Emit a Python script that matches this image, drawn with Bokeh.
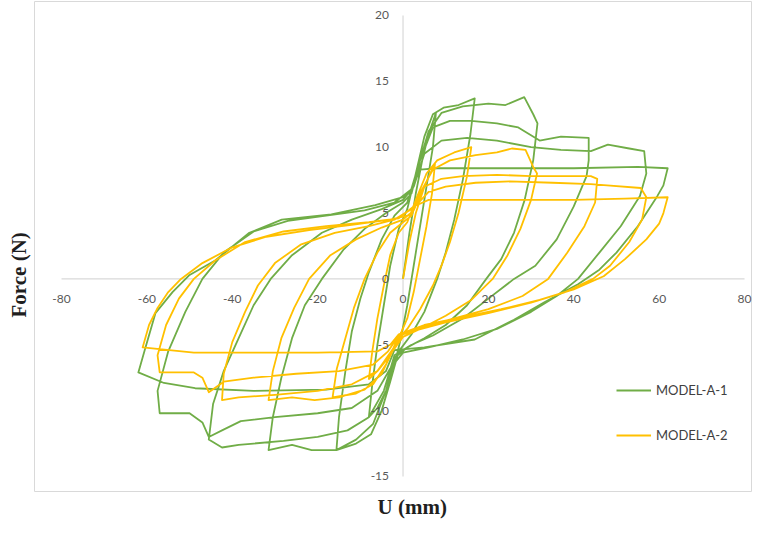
from bokeh.plotting import figure
from bokeh.models import Range1d, Legend, LegendItem, Title, ColumnDataSource
from bokeh.embed import file_html
from bokeh.resources import INLINE
from bokeh.core.properties import value

# ---- axis ticks ----
x_ticks = [-80, -60, -40, -20, 0, 20, 40, 60, 80]
y_ticks = [-15, -10, -5, 0, 5, 10, 15, 20]

series_names = ["MODEL-A-1", "MODEL-A-2"]
x_title = "U (mm)"
y_title = "Force (N)"

# ---- MODEL-A-1 hysteresis (U mm, Force), cycle by cycle ----
a1_pts = [
    # cycle 1
    (0.0, 0.0), (1.5, 3.5), (3.0, 6.5), (4.5, 9.0), (6.0, 11.0), (7.7, 12.6), (7.0, 10.0), (5.5, 7.0),
    (4.0, 4.0), (2.5, 1.0), (1.0, -2.0), (-0.5, -4.5), (-2.0, -6.5), (-4.0, -8.5), (-6.0, -9.8),
    (-8.0, -10.5), (-7.2, -8.0), (-6.0, -5.0), (-4.5, -2.0), (-3.0, 1.0), (-1.0, 3.8), (1.0, 5.3),
    # cycle 2
    (3.0, 8.0), (5.0, 10.8), (7.0, 12.5), (9.5, 13.0), (13.0, 13.2), (16.8, 13.7), (15.8, 11.0),
    (14.0, 7.5), (12.0, 4.5), (10.0, 2.0), (8.0, 0.0), (5.0, -2.5), (2.0, -4.2), (-1.0, -5.5),
    (-3.0, -7.8), (-5.0, -10.0), (-7.5, -11.8), (-11.0, -12.5), (-15.6, -13.0), (-15.0, -10.5),
    (-13.5, -7.0), (-12.0, -4.0), (-10.0, -1.5), (-8.0, 0.5), (-5.0, 3.0), (-2.0, 4.8), (1.0, 5.8),
    # cycle 3
    (3.5, 8.5), (6.0, 11.2), (9.0, 12.6), (14.0, 13.1), (20.0, 13.3), (24.0, 13.2), (28.4, 13.8),
    (30.5, 12.5), (31.5, 11.8), (30.5, 9.0), (28.5, 6.0), (26.0, 3.5), (23.0, 1.5), (19.5, 0.0),
    (15.0, -2.0), (10.0, -3.5), (5.0, -4.5), (1.0, -5.2), (-2.0, -6.0), (-4.0, -8.5), (-7.0, -11.0),
    (-11.0, -12.2), (-15.6, -13.0), (-21.4, -13.0), (-26.0, -12.6), (-31.5, -13.0), (-30.5, -10.5),
    (-28.5, -7.5), (-26.0, -4.5), (-23.0, -2.0), (-19.0, 0.0), (-14.0, 2.2), (-9.0, 3.8), (-4.0, 5.0),
    (0.0, 5.8), (2.0, 6.5),
    # cycle 4
    (4.0, 9.0), (7.0, 11.5), (11.0, 12.0), (16.0, 12.0), (22.0, 11.8), (27.0, 11.5), (32.0, 10.5),
    (37.0, 10.8), (43.5, 10.7), (43.5, 9.0), (43.0, 7.8), (40.0, 5.5), (36.0, 3.0), (31.0, 1.0),
    (26.0, 0.0), (20.0, -1.5), (14.0, -3.0), (7.0, -4.3), (2.0, -5.0), (-2.0, -5.8), (-4.5, -8.5),
    (-8.0, -10.5), (-13.0, -11.5), (-20.0, -12.0), (-28.0, -12.3), (-35.0, -12.5), (-38.5, -12.6),
    (-42.4, -12.8), (-45.5, -12.2), (-44.5, -9.5), (-42.0, -7.0), (-38.5, -4.5), (-35.0, -2.0),
    (-31.0, 0.0), (-26.0, 1.8), (-19.0, 3.5), (-12.0, 4.5), (-5.0, 5.3), (0.0, 6.0), (2.5, 7.0),
    # cycle 5
    (5.0, 9.5), (9.0, 10.5), (15.0, 10.7), (22.0, 10.5), (30.0, 10.0), (37.0, 9.8), (44.0, 9.7),
    (48.0, 10.2), (53.0, 9.9), (56.5, 9.7), (57.0, 8.0), (55.5, 6.3), (51.0, 4.0), (46.0, 2.0),
    (41.0, 0.0), (36.0, -1.3), (30.0, -2.5), (22.0, -3.8), (14.0, -4.6), (6.0, -5.2), (0.0, -5.6),
    (-3.0, -6.8), (-6.0, -8.5), (-12.0, -9.8), (-20.0, -10.2), (-30.0, -10.5), (-38.0, -10.8),
    (-42.4, -11.5), (-45.5, -12.0), (-47.0, -10.9), (-50.0, -10.2), (-57.0, -10.2), (-57.5, -8.5),
    (-55.0, -5.5), (-51.0, -2.5), (-47.0, 0.0), (-42.0, 2.0), (-35.0, 3.6), (-27.0, 4.4), (-18.0, 4.8),
    (-9.0, 5.2), (-2.0, 5.8), (2.0, 6.8),
    # cycle 6
    (4.0, 8.3), (8.0, 8.4), (20.0, 8.4), (40.0, 8.4), (55.0, 8.5), (62.0, 8.4), (61.0, 7.1),
    (59.6, 6.3), (55.0, 4.0), (50.0, 2.0), (46.0, 0.7), (41.0, -0.4), (33.0, -1.8), (26.0, -3.1),
    (16.8, -4.6), (5.0, -5.2), (-2.0, -5.4), (-4.0, -7.0), (-8.0, -8.0), (-18.0, -8.4), (-35.0, -8.5),
    (-48.7, -8.3), (-56.0, -7.9), (-62.0, -7.1), (-60.5, -5.4), (-58.0, -2.6), (-54.0, -1.0),
    (-50.0, 0.3), (-44.0, 1.4), (-36.0, 3.5), (-28.4, 4.5), (-16.8, 4.9), (-6.5, 5.6), (0.0, 6.2),
    (2.0, 6.8),
]

# ---- MODEL-A-2 hysteresis ----
a2_pts = [
    # cycle 1
    (0.0, 0.0), (1.5, 2.8), (3.0, 5.0), (5.0, 7.0), (7.5, 8.8), (6.8, 6.5), (5.5, 4.0), (4.0, 1.5),
    (2.5, -1.0), (1.0, -3.0), (-1.0, -4.5), (-3.5, -6.0), (-6.0, -7.0), (-8.0, -7.6), (-7.2, -5.5),
    (-6.0, -3.0), (-4.5, -0.5), (-3.0, 1.8), (-1.0, 3.5), (1.0, 4.3),
    # cycle 2
    (3.0, 6.0), (5.5, 8.0), (8.0, 9.0), (12.0, 9.6), (16.0, 10.0), (15.0, 7.8), (13.0, 5.0),
    (11.0, 2.8), (9.0, 1.0), (7.0, -0.5), (4.0, -2.3), (1.0, -3.8), (-1.5, -4.7), (-4.0, -6.5),
    (-7.0, -8.0), (-11.0, -8.7), (-16.5, -9.0), (-15.5, -6.8), (-13.5, -4.5), (-11.5, -2.2),
    (-9.0, 0.0), (-6.0, 2.0), (-3.0, 3.5), (0.0, 4.3), (2.0, 4.8),
    # cycle 3
    (4.0, 6.5), (7.0, 8.3), (11.0, 9.0), (17.0, 9.4), (22.0, 9.6), (25.5, 9.9), (28.7, 9.8),
    (30.5, 8.5), (31.4, 8.0), (30.0, 6.0), (27.5, 3.8), (24.5, 1.8), (21.0, 0.0), (16.0, -1.6),
    (10.0, -2.8), (4.0, -3.8), (0.0, -4.4), (-2.5, -5.5), (-5.0, -7.2), (-9.0, -8.4), (-15.0, -9.0),
    (-20.7, -9.2), (-26.0, -9.0), (-31.5, -9.2), (-30.5, -7.0), (-28.5, -4.5), (-25.5, -2.2),
    (-22.0, 0.0), (-17.0, 1.8), (-11.0, 3.0), (-5.0, 3.9), (0.0, 4.5), (2.5, 5.2),
    # cycle 4
    (5.0, 7.0), (9.0, 7.6), (14.0, 7.8), (22.0, 7.9), (30.0, 7.8), (35.5, 7.8), (44.0, 7.8),
    (45.5, 7.6), (45.0, 5.8), (42.5, 4.0), (38.5, 2.0), (34.0, 0.0), (28.0, -1.3), (20.0, -2.3),
    (12.0, -3.0), (5.0, -3.6), (0.0, -4.2), (-3.0, -5.6), (-6.0, -7.0), (-12.0, -8.0), (-20.0, -8.5),
    (-30.0, -8.8), (-38.5, -9.0), (-42.4, -9.2), (-42.0, -7.2), (-40.0, -4.8), (-37.0, -2.5),
    (-34.0, -0.5), (-30.0, 1.2), (-24.0, 2.6), (-16.0, 3.5), (-8.0, 4.0), (-2.0, 4.5), (2.5, 5.4),
    # cycle 5
    (6.0, 6.6), (10.0, 7.0), (17.0, 7.3), (25.0, 7.4), (35.0, 7.3), (44.0, 7.2), (47.8, 7.1),
    (55.7, 6.9), (57.0, 6.2), (56.0, 4.5), (53.0, 2.8), (48.5, 1.0), (44.5, 0.0), (38.0, -1.0),
    (30.0, -1.8), (20.0, -2.6), (10.0, -3.3), (3.0, -3.9), (-1.0, -4.3), (-3.5, -5.5), (-7.0, -6.5),
    (-15.0, -7.0), (-25.0, -7.2), (-35.0, -7.5), (-42.0, -7.8), (-45.5, -8.6), (-47.0, -7.5),
    (-49.0, -7.1), (-57.0, -7.1), (-57.5, -5.8), (-55.5, -3.5), (-52.5, -1.5), (-49.0, 0.0),
    (-44.0, 1.4), (-37.0, 2.8), (-28.0, 3.6), (-18.0, 4.0), (-8.0, 4.3), (-1.0, 4.6), (2.5, 5.5),
    # cycle 6
    (6.0, 6.0), (12.0, 6.0), (25.0, 6.0), (40.0, 6.0), (52.0, 6.1), (62.0, 6.2), (61.0, 5.0),
    (60.0, 4.2), (57.0, 3.0), (52.0, 1.5), (47.0, 0.2), (40.0, -0.8), (32.0, -1.6), (23.0, -2.3),
    (14.0, -2.9), (5.0, -3.5), (-1.0, -4.2), (-3.0, -5.0), (-6.0, -5.5), (-20.0, -5.6), (-40.0, -5.6),
    (-49.0, -5.6), (-61.0, -5.2), (-59.5, -3.5), (-57.5, -2.2), (-55.0, -1.0), (-52.0, 0.0),
    (-47.0, 1.2), (-40.0, 2.4), (-32.0, 3.2), (-22.0, 3.7), (-12.0, 4.1), (-3.0, 4.5), (1.0, 4.8),
]

green = "#70AD47"
gold = "#FFC000"
axis_gray = "#D9D9D9"
label_gray = "#595959"
title_color = "#1F1F1F"

a1_u = [pt[0] for pt in a1_pts]
a1_f = [pt[1] for pt in a1_pts]
a2_u = [pt[0] for pt in a2_pts]
a2_f = [pt[1] for pt in a2_pts]

p = figure(width=752, height=519, output_backend="svg", toolbar_location=None,
           x_range=Range1d(-86.33, 81.87), y_range=Range1d(-16.14, 21.06),
           x_axis_type=None, y_axis_type=None,
           min_border_left=34, min_border_right=0, min_border_top=1, min_border_bottom=28)
p.outline_line_color = axis_gray
p.outline_line_width = 1
p.background_fill_color = "white"
p.border_fill_color = "white"

# axes through the origin
p.segment(x0=[x_ticks[0]], y0=[0], x1=[x_ticks[-1]], y1=[0], line_color=axis_gray, line_width=1.2)
p.segment(x0=[0], y0=[y_ticks[0]], x1=[0], y1=[y_ticks[-1]], line_color=axis_gray, line_width=1.2)

r1 = p.line(a1_u, a1_f, line_color=green, line_width=1.8, line_join="round")
r2 = p.line(a2_u, a2_f, line_color=gold, line_width=1.8, line_join="round")

# tick labels
xs = ColumnDataSource(dict(x=x_ticks, y=[0] * len(x_ticks), t=[str(v) for v in x_ticks]))
p.text(x="x", y="y", text="t", source=xs, text_align="center", text_baseline="middle",
       y_offset=20, text_font=value("Lato"), text_font_size="12px", text_color=label_gray)
ys = ColumnDataSource(dict(x=[0] * len(y_ticks), y=y_ticks, t=[str(v) for v in y_ticks]))
p.text(x="x", y="y", text="t", source=ys, text_align="right", text_baseline="middle",
       x_offset=-14, text_font=value("Lato"), text_font_size="12px", text_color=label_gray)

# axis titles
p.add_layout(Title(text=y_title, align="left", vertical_align="middle", offset=174, standoff=6,
                   text_font="Liberation Serif", text_font_style="bold", text_font_size="21px",
                   text_color=title_color), "left")
p.add_layout(Title(text=x_title, align="left", vertical_align="bottom", offset=343, standoff=2,
                   text_font="Liberation Serif", text_font_style="bold", text_font_size="21px",
                   text_color=title_color), "below")

legend = Legend(items=[LegendItem(label=series_names[0], renderers=[r1]),
                       LegendItem(label=series_names[1], renderers=[r2])],
                location=(582, 46), glyph_width=35, glyph_height=20, spacing=25, padding=0, margin=0,
                label_standoff=5, border_line_color=None, background_fill_alpha=0,
                label_text_font="Lato", label_text_font_size="13px", label_text_color="#404040")
p.add_layout(legend)

open("out.html", "w").write(file_html(p, INLINE))
